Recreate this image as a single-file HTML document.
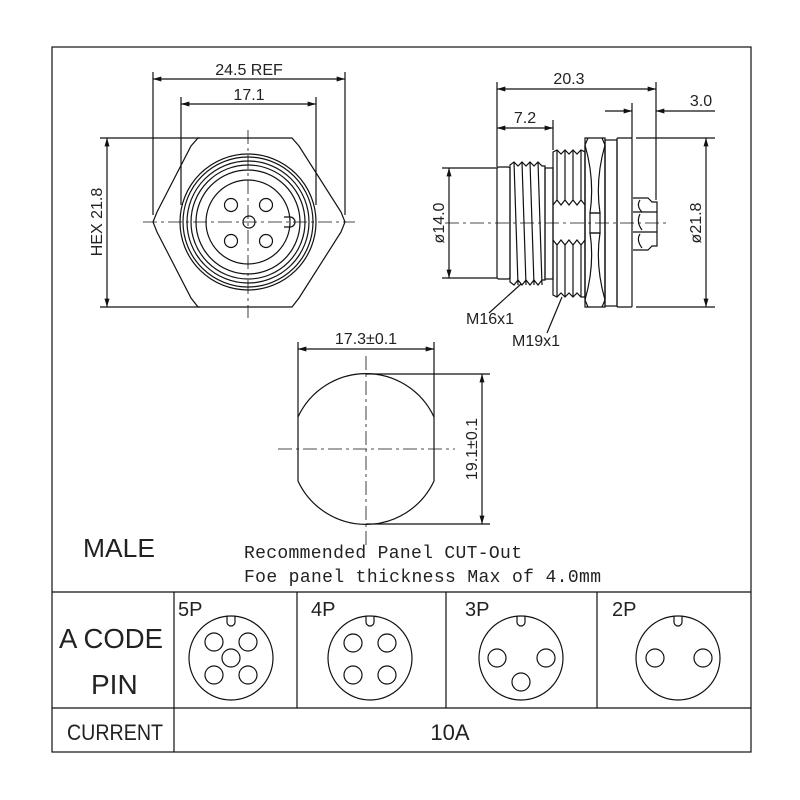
<!DOCTYPE html>
<html><head><meta charset="utf-8"><style>
html,body{margin:0;padding:0;background:#fff}
svg{display:block}
text{font-family:"Liberation Sans",sans-serif;fill:#222}
.m{font-family:"Liberation Mono",monospace}
</style></head><body>
<svg width="800" height="800" viewBox="0 0 800 800" xmlns="http://www.w3.org/2000/svg">
<defs>
<marker id="a" viewBox="0 0 10 6" refX="10" refY="3" markerWidth="14" markerHeight="5" markerUnits="userSpaceOnUse" orient="auto-start-reverse"><path d="M0,0 L10,3 L0,6z" fill="#111"/></marker>
</defs>
<g fill="none" stroke="#111" stroke-width="1.2">
<rect x="52" y="47" width="699" height="705"/>
<line x1="52" y1="592" x2="751" y2="592"/>
<line x1="52" y1="708" x2="751" y2="708"/>
<line x1="174" y1="592" x2="174" y2="752"/>
<line x1="297" y1="592" x2="297" y2="708"/>
<line x1="446" y1="592" x2="446" y2="708"/>
<line x1="597" y1="592" x2="597" y2="708"/>

<path d="M198,138 L292,138 L299,146 L341,212 L345,222 L341,232 L299,298 L292,307 L198,307 L191,298 L157,232 L153,222 L157,212 L191,146 Z"/>
<circle cx="248" cy="222" r="68"/>
<circle cx="248" cy="222" r="65"/>
<circle cx="248" cy="222" r="61"/>
<circle cx="248" cy="222" r="57"/>
<circle cx="248" cy="222" r="52"/>
<circle cx="248" cy="222" r="42"/>
<circle cx="231" cy="205" r="6.5"/>
<circle cx="266" cy="205" r="6.5"/>
<circle cx="231" cy="241" r="6.5"/>
<circle cx="266" cy="241" r="6.5"/>
<circle cx="249" cy="222" r="6"/>
<path d="M284,217 L290,217 A5,5 0 0 1 290,227 L284,227"/>
<g stroke-width="0.8" stroke-dasharray="14,4,3,4">
<line x1="143" y1="222" x2="355" y2="222"/>
<line x1="248" y1="130" x2="248" y2="318"/>
</g>
<line x1="153" y1="72" x2="153" y2="215"/>
<line x1="345" y1="72" x2="345" y2="215"/>
<line x1="153" y1="79" x2="345" y2="79" marker-start="url(#a)" marker-end="url(#a)"/>
<line x1="181" y1="97" x2="181" y2="205"/>
<line x1="316" y1="97" x2="316" y2="205"/>
<line x1="181" y1="104" x2="316" y2="104" marker-start="url(#a)" marker-end="url(#a)"/>
<line x1="100" y1="138" x2="200" y2="138"/>
<line x1="100" y1="307" x2="200" y2="307"/>
<line x1="107" y1="138" x2="107" y2="307" marker-start="url(#a)" marker-end="url(#a)"/>

<rect x="497" y="167" width="13" height="112" rx="2"/>
<path d="M510,165 L514,162 L518,166 L522,162 L526,166 L530,162 L534,166 L538,162 L542,166 L545,166 L545,280 L542,280 L538,285 L534,280 L530,285 L526,280 L522,285 L518,280 L514,285 L510,282 Z"/>
<line x1="514" y1="162" x2="518" y2="285"/><line x1="522" y1="162" x2="526" y2="285"/><line x1="530" y1="162" x2="534" y2="285"/><line x1="538" y1="162" x2="542" y2="285"/>
<rect x="545" y="168" width="8" height="111"/>
<path d="M553,152 L557,150 L561,154 L565,150 L569,154 L573,150 L577,154 L581,150 L585,152 L585,297 L581,297 L577,293 L573,297 L569,293 L565,297 L561,293 L557,297 L553,295 Z"/>
<path d="M553,205 L557,200 L561,205 L565,200 L569,205 L573,200 L577,205 L581,200 L585,205"/>
<path d="M553,240 L557,245 L561,240 L565,245 L569,240 L573,245 L577,240 L581,245 L585,240"/>
<line x1="557" y1="150" x2="557" y2="200"/><line x1="565" y1="150" x2="565" y2="200"/><line x1="573" y1="150" x2="573" y2="200"/><line x1="581" y1="150" x2="581" y2="200"/>
<line x1="557" y1="245" x2="557" y2="297"/><line x1="565" y1="245" x2="565" y2="297"/><line x1="573" y1="245" x2="573" y2="297"/><line x1="581" y1="245" x2="581" y2="297"/>
<path d="M585,138 L605,138 L605,307 L585,307 Z"/>
<path d="M588,138 L585,145 L585,300 L588,307 M602,138 L605,145 L605,300 L602,307"/>
<path d="M585,145 Q595,180 590,213 L600,213 Q595,180 605,145 M585,300 Q595,265 590,233 L600,233 Q595,265 605,300"/>
<rect x="590" y="213" width="10" height="20"/>
<rect x="605" y="140" width="12" height="166"/>
<rect x="617" y="138" width="15" height="169" rx="1"/>
<path d="M633,198 L648,198 L652,202 L657,202 L657,246 L652,246 L648,250 L633,250"/>
<line x1="633" y1="212" x2="657" y2="212"/><line x1="633" y1="232" x2="657" y2="232"/>
<path d="M640,200 Q636,206 642,212 M640,214 Q636,222 642,230 M640,234 Q636,240 642,248"/>
<line x1="445" y1="223" x2="670" y2="223" stroke-width="0.8" stroke-dasharray="14,4,3,4"/>
<line x1="497" y1="82" x2="497" y2="167"/>
<line x1="656" y1="82" x2="656" y2="200"/>
<line x1="497" y1="89" x2="656" y2="89" marker-start="url(#a)" marker-end="url(#a)"/>
<line x1="553" y1="120" x2="553" y2="150"/>
<line x1="497" y1="128" x2="553" y2="128" marker-start="url(#a)" marker-end="url(#a)"/>
<line x1="632" y1="103" x2="632" y2="138"/>
<line x1="605" y1="111" x2="632" y2="111" marker-end="url(#a)"/>
<line x1="715" y1="111" x2="656" y2="111" marker-end="url(#a)"/>
<line x1="442" y1="168" x2="497" y2="168"/>
<line x1="442" y1="278" x2="497" y2="278"/>
<line x1="449" y1="168" x2="449" y2="278" marker-start="url(#a)" marker-end="url(#a)"/>
<line x1="636" y1="138" x2="715" y2="138"/>
<line x1="636" y1="307" x2="715" y2="307"/>
<line x1="706" y1="138" x2="706" y2="307" marker-start="url(#a)" marker-end="url(#a)"/>
<line x1="489" y1="313" x2="521" y2="284"/>
<line x1="547" y1="333" x2="562" y2="297"/>

<path d="M298,417 A75,75 0 0 1 434,417 L434,481 A75,75 0 0 1 298,481 Z"/>
<g stroke-width="0.8" stroke-dasharray="14,4,3,4">
<line x1="278" y1="449" x2="455" y2="449"/>
<line x1="366" y1="356" x2="366" y2="545"/>
</g>
<line x1="298" y1="342" x2="298" y2="417"/>
<line x1="434" y1="342" x2="434" y2="417"/>
<line x1="298" y1="349" x2="434" y2="349" marker-start="url(#a)" marker-end="url(#a)"/>
<line x1="366" y1="374" x2="490" y2="374"/>
<line x1="366" y1="524" x2="490" y2="524"/>
<line x1="482" y1="374" x2="482" y2="524" marker-start="url(#a)" marker-end="url(#a)"/>

<circle cx="231" cy="658" r="42"/>
<path d="M227,616 L227,622 A4,4 0 0 0 235,622 L235,616"/>
<circle cx="214" cy="642" r="9"/><circle cx="248" cy="642" r="9"/><circle cx="231" cy="658" r="9"/><circle cx="214" cy="675" r="9"/><circle cx="248" cy="675" r="9"/>
<circle cx="370" cy="658" r="42"/>
<path d="M366,616 L366,622 A4,4 0 0 0 374,622 L374,616"/>
<circle cx="353" cy="643" r="9"/><circle cx="387" cy="643" r="9"/><circle cx="353" cy="675" r="9"/><circle cx="387" cy="675" r="9"/>
<circle cx="521" cy="658" r="42"/>
<path d="M517,616 L517,622 A4,4 0 0 0 525,622 L525,616"/>
<circle cx="497" cy="658" r="9"/><circle cx="546" cy="658" r="9"/><circle cx="521" cy="682" r="9"/>
<circle cx="678" cy="658" r="42"/>
<path d="M674,616 L674,622 A4,4 0 0 0 682,622 L682,616"/>
<circle cx="655" cy="658" r="9"/><circle cx="703" cy="658" r="9"/>
</g>

<g font-size="16">
<text x="249" y="75" text-anchor="middle">24.5 REF</text>
<text x="249" y="100" text-anchor="middle">17.1</text>
<text transform="translate(102,222) rotate(-90)" text-anchor="middle">HEX 21.8</text>
<text x="569" y="84" text-anchor="middle">20.3</text>
<text x="525" y="123" text-anchor="middle">7.2</text>
<text x="701" y="106" text-anchor="middle">3.0</text>
<text transform="translate(444,223) rotate(-90)" text-anchor="middle">ø14.0</text>
<text transform="translate(701,223) rotate(-90)" text-anchor="middle">ø21.8</text>
<text x="466" y="324">M16x1</text>
<text x="512" y="346">M19x1</text>
<text x="366" y="344" text-anchor="middle">17.3±0.1</text>
<text transform="translate(477,449) rotate(-90)" text-anchor="middle">19.1±0.1</text>
</g>
<text x="83" y="557" font-size="26" textLength="72" lengthAdjust="spacingAndGlyphs">MALE</text>
<text class="m" x="244" y="558" font-size="18" textLength="278">Recommended Panel CUT-Out</text>
<text class="m" x="244" y="582" font-size="18" textLength="357">Foe panel thickness Max of 4.0mm</text>
<text x="59" y="648" font-size="28" textLength="104" lengthAdjust="spacingAndGlyphs">A CODE</text>
<text x="91" y="694" font-size="28">PIN</text>
<text x="67" y="740" font-size="22" textLength="96" lengthAdjust="spacingAndGlyphs">CURRENT</text>
<text x="450" y="740" font-size="22" text-anchor="middle">10A</text>
<text x="178" y="616" font-size="20">5P</text>
<text x="311" y="616" font-size="20">4P</text>
<text x="465" y="616" font-size="20">3P</text>
<text x="612" y="616" font-size="20">2P</text>
</svg>
</body></html>
